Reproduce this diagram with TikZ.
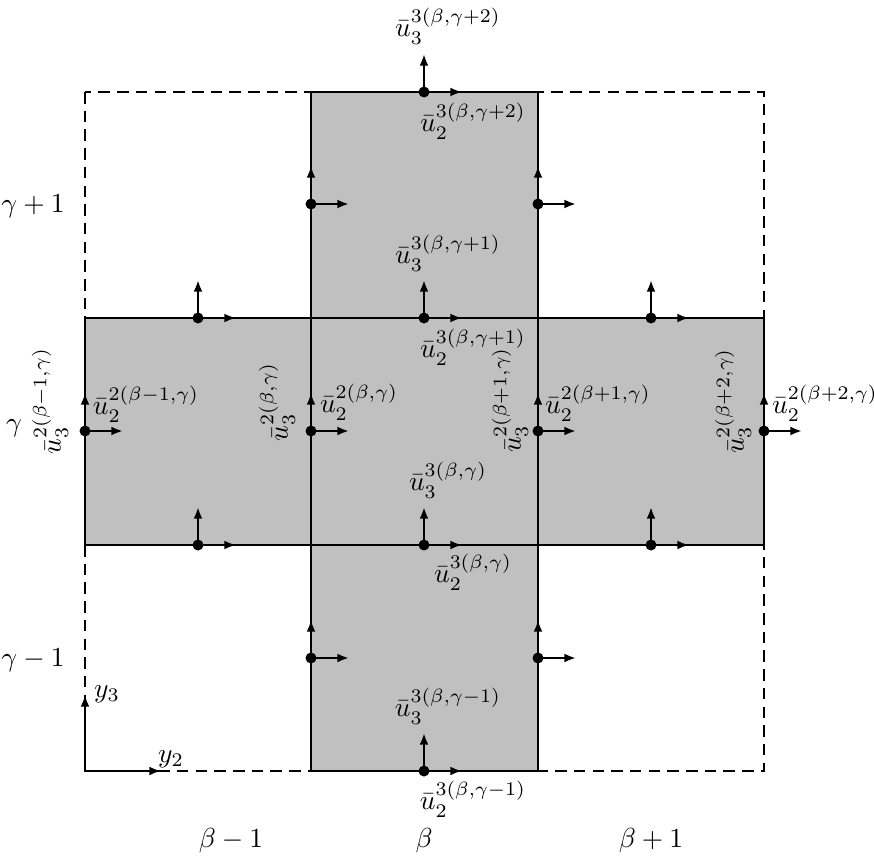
\documentclass[tikz,border=0pt]{standalone}
\usetikzlibrary{arrows.meta}
\definecolor{cellgray}{RGB}{192,192,192}
\begin{document}
\begin{tikzpicture}[x=0.3636pt,y=-0.3636pt,
  cellfill/.style={fill=cellgray,draw=black,line width=0.9pt},
  gridline/.style={draw=black,line width=1pt,dash pattern=on 4.2pt off 2.6pt},
  vec/.style={-{Latex[length=4.2pt,width=3.2pt]},line width=0.8pt},
  dot/.style={circle,fill=black,inner sep=0pt,minimum size=4pt},
  lab/.style={inner sep=0pt}]
\useasboundingbox (0,0) rectangle (874,856);
% gray cells
\draw[cellfill] (311,92) rectangle (538,318);
\draw[cellfill] (311,318) rectangle (538,545);
\draw[cellfill] (311,545) rectangle (538,771);
\draw[cellfill] (85,318) rectangle (311,545);
\draw[cellfill] (538,318) rectangle (764,545);
% dashed cells
\draw[gridline] (85,92) rectangle (311,318);
\draw[gridline] (538,92) rectangle (764,318);
\draw[gridline] (85,545) rectangle (311,771);
\draw[gridline] (538,545) rectangle (764,771);
% vectors at edge midpoints
\foreach \n/\x/\y in {a/424/92, b/198/318, c/424/318, d/651/318, e/198/545, f/424/545, g/651/545, h/424/771,
                      i/311/204, j/538/204, k/85/431, l/311/431, m/538/431, n/764/431, o/311/658, p/538/658}{
  \coordinate (p\n) at (\x,\y);
  \coordinate (p\n-u) at (\x,\y-38);
  \coordinate (p\n-r) at (\x+38,\y);
  \draw[vec] (p\n) -- (p\n-u);
  \draw[vec] (p\n) -- (p\n-r);
  \node[dot] (d\n) at (p\n) {};
}
% axes
\coordinate (O) at (85,771);
\coordinate (Y3) at (85,695);
\coordinate (Y2) at (161,771);
\draw[vec] (O) -- (Y3);
\draw[vec] (O) -- (Y2);
\node[lab] (ly3) at (107,694) {$y_3$};
\node[lab] (ly2) at (171,759) {$y_2$};
% vertical-component labels
\node[lab] (t1) at (448,26) {$\bar{u}_3^{3(\beta,\gamma+2)}$};
\node[lab] (t2) at (473,121) {$\bar{u}_2^{3(\beta,\gamma+2)}$};
\node[lab] (t3) at (448,253) {$\bar{u}_3^{3(\beta,\gamma+1)}$};
\node[lab] (t4) at (473,347) {$\bar{u}_2^{3(\beta,\gamma+1)}$};
\node[lab] (t5) at (448,480) {$\bar{u}_3^{3(\beta,\gamma)}$};
\node[lab] (t6) at (473,572) {$\bar{u}_2^{3(\beta,\gamma)}$};
\node[lab] (t7) at (448,706) {$\bar{u}_3^{3(\beta,\gamma-1)}$};
\node[lab] (t8) at (473,799) {$\bar{u}_2^{3(\beta,\gamma-1)}$};
% horizontal-component labels
\node[lab] (s1) at (146,404) {$\bar{u}_2^{2(\beta-1,\gamma)}$};
\node[lab] (s2) at (359,402) {$\bar{u}_2^{2(\beta,\gamma)}$};
\node[lab] (s3) at (598,403) {$\bar{u}_2^{2(\beta+1,\gamma)}$};
\node[lab] (s4) at (825,403) {$\bar{u}_2^{2(\beta+2,\gamma)}$};
\node[lab,rotate=90] (r1) at (50,401) {$\bar{u}_3^{2(\beta-1,\gamma)}$};
\node[lab,rotate=90] (r2) at (277,402) {$\bar{u}_3^{2(\beta,\gamma)}$};
\node[lab,rotate=90] (r3) at (510,400) {$\bar{u}_3^{2(\beta+1,\gamma)}$};
\node[lab,rotate=90] (r4) at (733,401) {$\bar{u}_3^{2(\beta+2,\gamma)}$};
% row / column labels
\node[lab] (g1) at (33,206) {$\gamma+1$};
\node[lab] (g0) at (14,428) {$\gamma$};
\node[lab] (gm) at (33,660) {$\gamma-1$};
\node[lab] (bm) at (231,841) {$\beta-1$};
\node[lab] (b0) at (424,841) {$\beta$};
\node[lab] (b1) at (651,841) {$\beta+1$};
\end{tikzpicture}
\end{document}
